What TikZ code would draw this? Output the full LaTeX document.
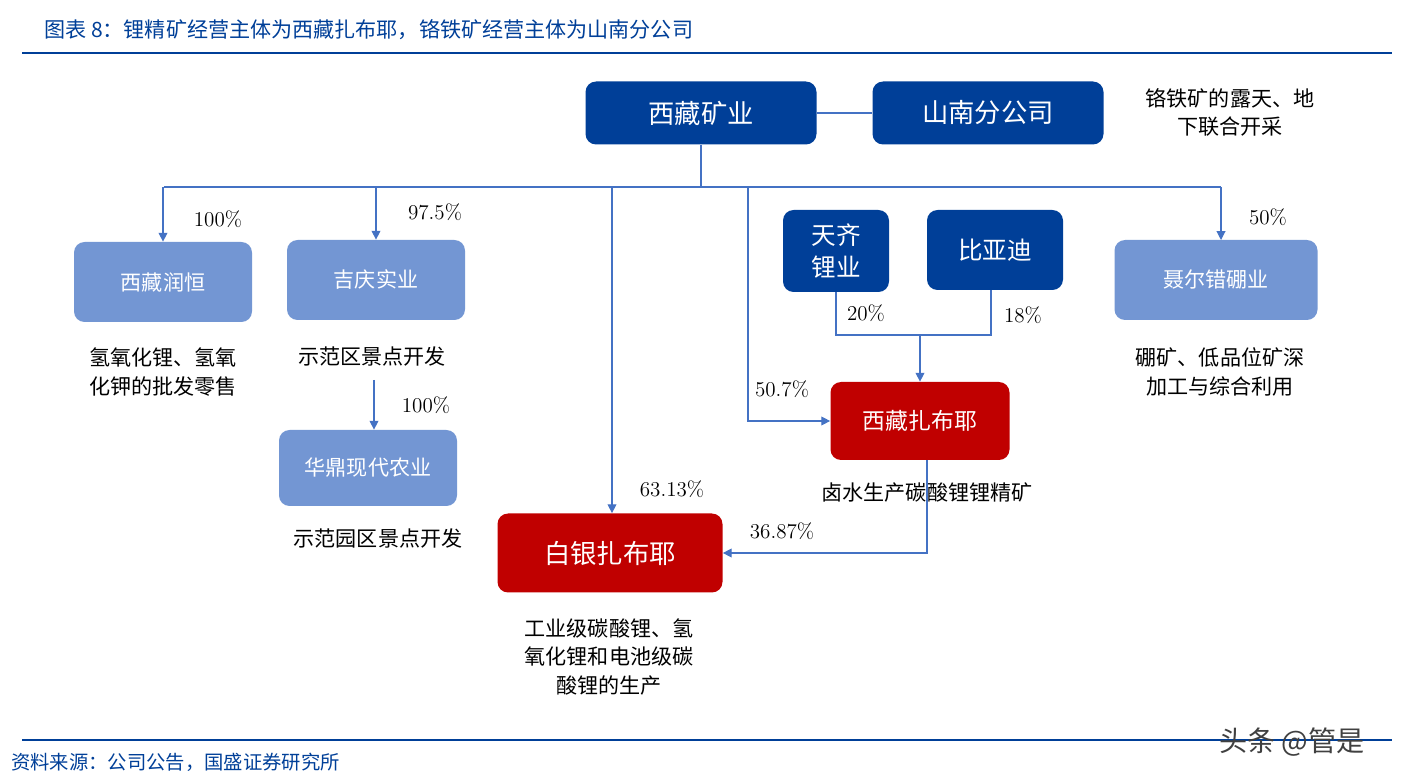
\documentclass[tikz,border=0pt]{standalone}
\usepackage{fontspec}
\newfontfamily\cjk{Noto Sans CJK SC}
\usetikzlibrary{arrows.meta}
\definecolor{dkblue}{HTML}{003F98}
\definecolor{ltblue}{HTML}{7396D3}
\definecolor{dkred}{HTML}{C00000}
\definecolor{lnblue}{HTML}{4472C4}
\tikzset{
  big/.style={draw=none, fill=dkblue, rounded corners=6pt, text=white, font=\cjk\fontsize{15}{18}\selectfont, align=center},
  sub/.style={draw=none, fill=ltblue, rounded corners=6pt, text=white, font=\cjk\fontsize{12}{14}\selectfont},
  red/.style={draw=none, fill=dkred, rounded corners=6pt, text=white, font=\cjk\fontsize{15}{18}\selectfont},
  desc/.style={font=\cjk\fontsize{12}{16}\selectfont, align=center},
  pct/.style={font=\fontsize{12}{14}\selectfont},
  link/.style={draw=lnblue, line width=0.6pt},
  arr/.style={link, -{Triangle[length=5pt,width=5pt]}}
}
\begin{document}
\begin{tikzpicture}[x=0.02cm, y=-0.02cm]
\useasboundingbox (0,0) rectangle (1407,783);
% header and footer
\node[anchor=west, text=dkblue, font=\cjk\itshape\fontsize{12}{14}\selectfont] (title) at (38,30) {图表 8：锂精矿经营主体为西藏扎布耶，铬铁矿经营主体为山南分公司};
\draw[dkblue, line width=1.5pt] (22,53) -- (1392,53);
\draw[dkblue, line width=1.2pt] (22,740) -- (1392,740);
\node[anchor=west, text=dkblue, font=\cjk\itshape\fontsize{11}{13}\selectfont] (src) at (5,762) {资料来源：公司公告，国盛证券研究所};
\node[font=\cjk\fontsize{16}{18}\selectfont, text=black!75] (wm) at (1292,742) {头条 @管是};
% boxes
\node[big, minimum width=231*0.02cm, minimum height=63*0.02cm] (xz) at (701,113) {西藏矿业};
\node[big, minimum width=231*0.02cm, minimum height=63*0.02cm] (sn) at (988,113) {山南分公司};
\node[desc, font=\cjk\fontsize{12}{16}\selectfont] (snd) at (1230,112) {铬铁矿的露天、地\\下联合开采};
\node[sub, minimum width=178*0.02cm, minimum height=80*0.02cm] (rh) at (163,282) {西藏润恒};
\node[sub, minimum width=178*0.02cm, minimum height=80*0.02cm] (jq) at (376,280) {吉庆实业};
\node[sub, minimum width=178*0.02cm, minimum height=76*0.02cm] (hd) at (368,468) {华鼎现代农业};
\node[sub, minimum width=203*0.02cm, minimum height=80*0.02cm] (nr) at (1216,280) {聂尔错硼业};
\node[big, minimum width=106*0.02cm, minimum height=82*0.02cm, font=\cjk\fontsize{14}{18}\selectfont] (tq) at (836,251) {天齐\\锂业};
\node[big, minimum width=136*0.02cm, minimum height=80*0.02cm, font=\cjk\fontsize{14}{18}\selectfont] (byd) at (995,250) {比亚迪};
\node[red, minimum width=179*0.02cm, minimum height=78*0.02cm, font=\cjk\fontsize{13}{16}\selectfont] (zb) at (920,421) {西藏扎布耶};
\node[red, minimum width=225*0.02cm, minimum height=79*0.02cm] (by) at (610,553) {白银扎布耶};
% descriptions
\node[desc] (rhd) at (163,372) {氢氧化锂、氢氧\\化钾的批发零售};
\node[desc] (jqd) at (372,356) {示范区景点开发};
\node[desc] (hdd) at (378,538) {示范园区景点开发};
\node[desc] (zbd) at (927,493) {卤水生产碳酸锂锂精矿};
\node[desc] (byd2) at (609,657) {工业级碳酸锂、氢\\氧化锂和电池级碳\\酸锂的生产};
\node[desc] (nrd) at (1220,372) {硼矿、低品位矿深\\加工与综合利用};
% percentages
\node[pct] (p1) at (218,219) {100\%};
\node[pct] (p2) at (435,212) {97.5\%};
\node[pct] (p3) at (1268,217) {50\%};
\node[pct] (p4) at (866,313) {20\%};
\node[pct] (p5) at (1023,315) {18\%};
\node[pct] (p6) at (782,389) {50.7\%};
\node[pct] (p7) at (672,489) {63.13\%};
\node[pct] (p8) at (782,531) {36.87\%};
\node[pct] (p9) at (426,405) {100\%};
% connectors
\coordinate (bus) at (701,187);
\coordinate (hdtop) at (374,380);
\coordinate (mid) at (920,335);
\draw[link] (xz) -- (sn);
\draw[link] (xz.south) -- (bus);
\draw[link] (164,187) -- (1221,187);
\draw[arr] (bus -| rh) -- (rh.north);
\draw[arr] (bus -| jq) -- (jq.north);
\draw[arr] (612,187) -- (by.north -| 612,0);
\draw[arr] (748,187) |- (zb.west);
\draw[arr] (1221,187) -- (1221,240);
\draw[link] (tq.south) |- (mid) -| (991,290);
\draw[arr] (mid) -- (zb.north);
\draw[arr] (927,460) |- (by.east);
\draw[arr] (hdtop) -- (hdtop |- hd.north);
\end{tikzpicture}
\end{document}
